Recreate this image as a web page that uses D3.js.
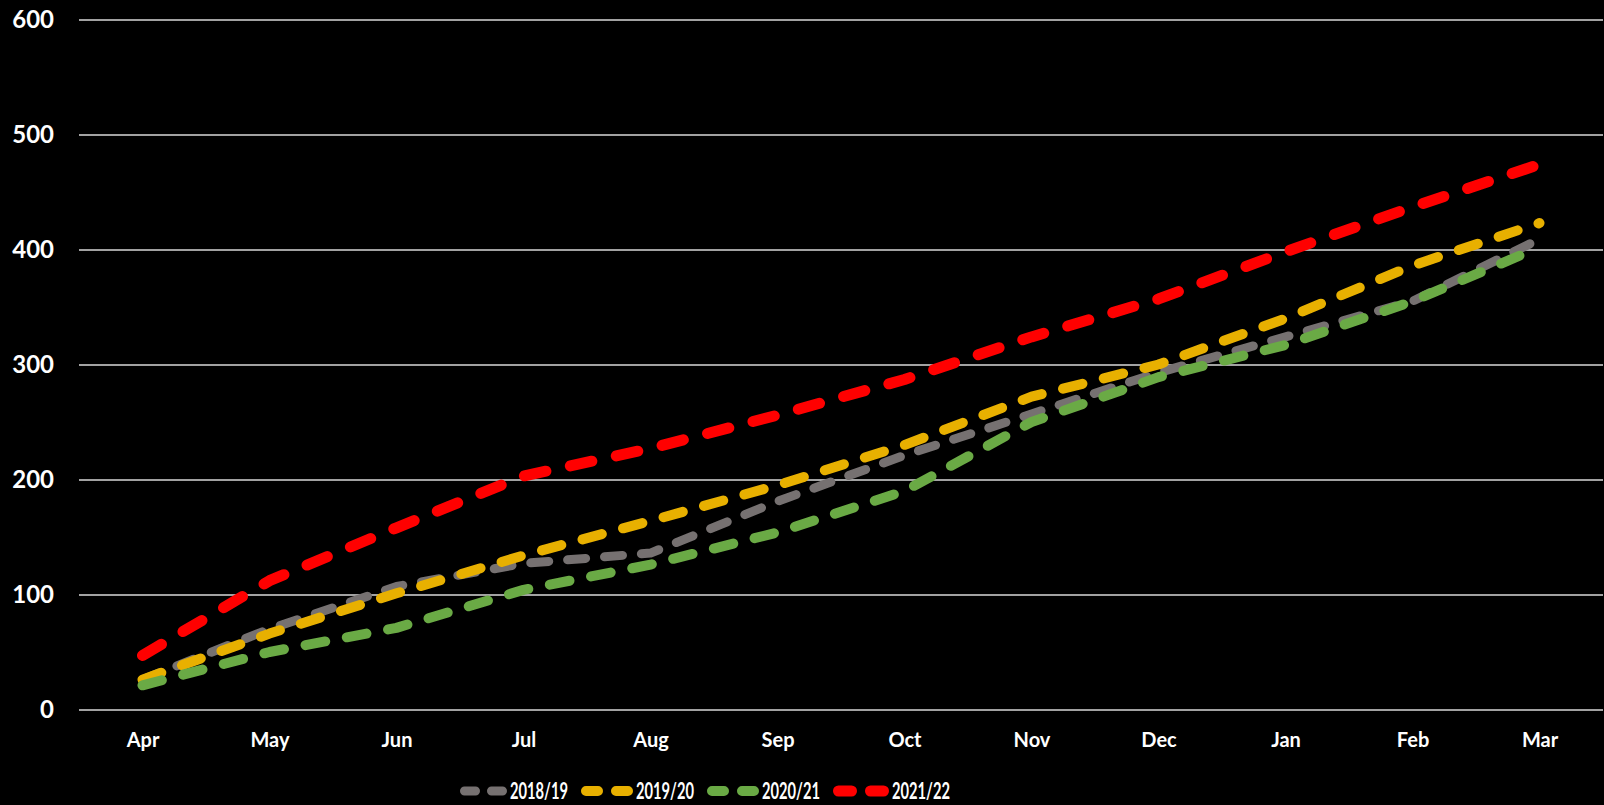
<!DOCTYPE html>
<html>
<head>
<meta charset="utf-8">
<script src="https://cdn.jsdelivr.net/npm/d3@7"></script>
<style>
  html, body { margin: 0; padding: 0; background: #000; }
  svg { display: block; }
  text { font-family: Lato, "Open Sans", sans-serif; font-weight: 700; fill: #ffffff; }
</style>
</head>
<body>
<svg id="chart" width="1604" height="805"></svg>
<script>
// Cumulative totals by month for each season
const months = ["Apr", "May", "Jun", "Jul", "Aug", "Sep", "Oct", "Nov", "Dec", "Jan", "Feb", "Mar"];
const yTicks = [0, 100, 200, 300, 400, 500, 600];

const season1819 = [26, 70, 107, 127, 136, 181, 221, 257, 293, 324, 355, 409];
const season1920 = [26, 66, 101, 134, 164, 195, 230, 272, 300, 340, 386, 423];
const season2021 = [21, 50, 71, 104, 126, 154, 190, 250, 289, 317, 355, 402];
const season2122 = [47, 112, 158, 203, 227, 256, 287, 324, 357, 398, 437, 474];

const seriesNames = ["2018/19", "2019/20", "2020/21", "2021/22"];
const seriesValues = [season1819, season1920, season2021, season2122];

// Line styling per series: colour, width, visible dash, visible gap (round caps)
const styles = [
  { color: "#767171", width: 9,  dash: 27, gap: 10 },
  { color: "#e8b000", width: 10, dash: 30, gap: 12 },
  { color: "#6aaa45", width: 10, dash: 30, gap: 12 },
  { color: "#ff0000", width: 11, dash: 33, gap: 14 }
];
// Legend swatch: visible dash/gap lengths
const legendDash = [
  { dash: 20, gap: 7 },
  { dash: 22, gap: 8 },
  { dash: 22, gap: 8 },
  { dash: 24, gap: 8 }
];

const svg = d3.select("#chart");
const plot = { left: 79, right: 1603, top: 19.5, bottom: 709.5 };

const x = d3.scalePoint().domain(months).range([plot.left, plot.right]).padding(0.5);
const y = d3.scaleLinear().domain([0, 600]).range([plot.bottom, plot.top]);

// Horizontal gridlines with value labels
const yAxis = svg.append("g")
  .attr("transform", `translate(${plot.left},0)`)
  .call(d3.axisLeft(y).tickValues(yTicks).tickSize(-(plot.right - plot.left)).tickPadding(25).tickFormat(d3.format("d")));
yAxis.select(".domain").remove();
yAxis.selectAll(".tick line").attr("stroke", "#d9d9d9").attr("stroke-width", 1.6);
yAxis.selectAll(".tick text")
  .attr("fill", "#fff").style("font-size", "24px").attr("dy", "0.35em");

// Month labels
const xAxis = svg.append("g")
  .attr("transform", `translate(0,${plot.bottom})`)
  .call(d3.axisBottom(x).tickSize(0));
xAxis.select(".domain").remove();
xAxis.selectAll(".tick text")
  .attr("fill", "#fff").style("font-size", "20px").attr("y", 37).attr("dy", "0");

// Dashed series lines
const line = d3.line().x((d, i) => x(months[i])).y(d => y(d));
seriesValues.forEach((vals, k) => {
  const s = styles[k];
  svg.append("path")
    .datum(vals)
    .attr("d", line)
    .attr("fill", "none")
    .attr("stroke", s.color)
    .attr("stroke-width", s.width)
    .attr("stroke-linecap", "round")
    .attr("stroke-linejoin", "round")
    .attr("stroke-dasharray", `${s.dash - s.width},${s.gap + s.width}`);
});

// Legend
const legend = svg.append("g").attr("transform", "translate(0,791)");
let lx = 460;
seriesNames.forEach((name, k) => {
  const s = styles[k];
  const ld = legendDash[k];
  const dashLen = ld.dash - s.width;
  const gapLen = ld.gap + s.width;
  const swLen = dashLen * 2 + gapLen;
  const x0 = lx + s.width / 2;
  legend.append("line")
    .attr("x1", x0).attr("x2", x0 + swLen)
    .attr("y1", 0).attr("y2", 0)
    .attr("stroke", s.color)
    .attr("stroke-width", s.width)
    .attr("stroke-linecap", "round")
    .attr("stroke-dasharray", `${dashLen},${gapLen}`);
  const tx = lx + swLen + s.width + 3;
  legend.append("text")
    .attr("x", tx).attr("y", 8)
    .style("font-size", "22px")
    .attr("textLength", 58)
    .attr("lengthAdjust", "spacingAndGlyphs")
    .text(name);
  lx = tx + 58 + 13;
});
</script>
</body>
</html>
